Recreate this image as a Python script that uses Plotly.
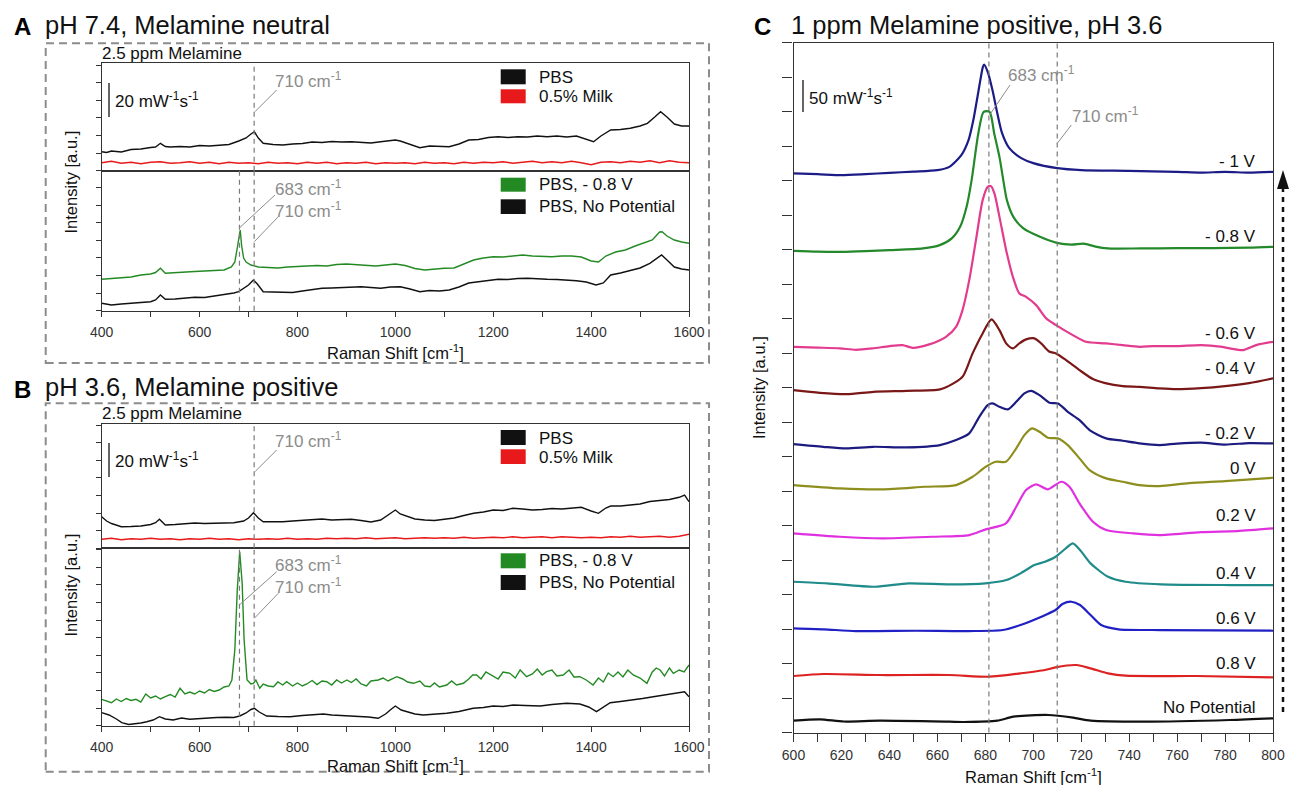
import plotly.graph_objects as go

FONT = "Liberation Sans, Arial, Helvetica, sans-serif"
W, H = 1290, 785

# ---------------- DATA (intensity in a.u., x in cm^-1) ----------------
# Panel A (pH 7.4) upper: PBS / 0.5% milk
a_top_pbs_x = [400,410,420,440,460,480,500,510,520,530,540,560,580,600,620,640,660,680,695,705,
               712,720,730,750,770,790,810,830,850,870,890,910,930,950,970,990,1000,1010,1030,1050,
               1070,1090,1110,1130,1150,1170,1190,1210,1230,1250,1270,1290,1310,1330,1350,1370,1390,1405,1420,1440,
               1460,1480,1500,1515,1530,1542,1555,1570,1585,1600]
a_top_pbs_y = [19,18.2,19.7,18.7,21.2,21.7,23.2,23.7,27.4,24.2,23.7,24.2,23.7,25.2,24.7,25.7,26.2,29.7,32.7,36.7,
               39,32.7,27.4,26.2,25.7,26.7,27.2,28.7,28.2,29.2,28.7,29,28.2,27.7,29,30.2,30.7,29.7,26.7,23,
               24.7,24.2,24,26.7,30.7,31.2,33.2,34,33.2,34,33.7,34.7,34,34.7,33.7,34.7,31.7,29,34.7,40.7,
               41.2,42.4,44.7,47.4,53.7,59,53.7,46.7,44.7,44.7]
milk_x = list(range(400, 1601, 20))
a_top_milk_y = [8,9.5,7.5,8.5,7,8.5,9,7.5,8,9,
                7.5,8.5,7,8.5,7.5,8,7,8.5,7.5,8,
                7,8.5,7.5,8.5,7,8,7.5,8.5,7,8,
                7.5,8,7,8.5,7.5,8,7,8.5,7.5,8.5,
                8,9,7.5,8.5,9.5,8,9,8,9.5,8,
                6,8.5,9,8,9.5,8.5,10,8,10,8.5,
                8]

# Panel A lower: PBS -0.8 V / PBS no potential
a_bot_neg_x = [400,420,440,460,480,500,510,520,530,550,570,590,610,630,650,665,672,677,681,
               683,686,690,695,705,720,740,760,780,800,820,840,860,880,900,920,940,960,980,1000,
               1020,1040,1060,1080,1100,1120,1140,1160,1180,1200,1220,1240,1260,1280,1300,1320,1340,1360,1380,1400,
               1415,1430,1450,1470,1490,1510,1525,1540,1545,1555,1570,1585,1600]
a_bot_neg_y = [31.4,32.2,33.4,33.7,35.7,36.7,38.2,42.4,37.4,38.2,38.7,39.2,39.7,40.2,40.7,43.7,48.7,62.7,78.7,
               80.7,64.7,52.7,48.7,45.7,43.7,43.2,42.7,43.7,44.2,44.7,45.2,44.7,46.2,46.7,46.2,45.2,44.7,45.7,46.7,
               45.2,42.2,40.7,41.7,42.4,42.7,46.7,50.7,52.7,54,53.7,54.7,55.7,54.7,54,54,54.7,54.7,53.7,49.7,
               48.7,54.7,58.7,60.7,64.7,67.7,70.7,78.7,79,74.7,70.7,68.7,67.4]
a_bot_nop_x = [400,420,440,460,480,500,510,520,530,550,570,590,610,630,650,670,680,690,700,
               710,718,730,750,770,790,810,830,850,870,890,910,930,950,970,990,1010,1030,1050,1070,
               1090,1110,1130,1150,1170,1190,1210,1230,1250,1270,1290,1310,1330,1350,1370,1390,1410,1425,1440,1460,
               1480,1500,1520,1535,1544,1555,1570,1585,1600]
a_bot_nop_y = [7.4,5.7,6.7,7.2,8.2,9,10.7,15.7,11.4,11.7,12.7,13.4,13.2,14.7,15.7,17.7,19,22.4,25.7,
               30.7,26.7,19,18.7,18,18.2,19.7,21.2,22.4,22.7,23.2,23.7,24,23.2,22.4,23.7,24,21.7,19,20.2,
               19.7,20.7,23.7,27.7,29,30.7,31.4,31.2,32.2,32.4,31.7,31.4,31.2,30.7,30,28.7,25.7,27.7,35.7,37.7,
               40.2,42.7,47.4,52.7,55.7,50.7,43.7,41.7,40.7]

# Panel B (pH 3.6) upper: PBS / 0.5% milk
b_top_pbs_x = [400,410,420,440,460,480,500,510,518,530,550,570,590,610,630,650,670,690,700,710,
               720,730,750,770,790,810,830,850,870,890,910,930,950,970,990,1000,1010,1025,1040,1060,
               1080,1100,1120,1140,1160,1180,1200,1220,1240,1260,1280,1300,1320,1340,1360,1380,1400,1415,1430,1440,
               1460,1480,1500,1520,1540,1560,1580,1591,1600]
b_top_pbs_y = [31.6,27.3,24.8,21.6,21.8,22.3,23.8,25.6,29,23.3,23.8,24.3,25.3,24.8,25.3,25.8,25.6,27.3,30.3,35.6,
               30.3,26.6,26.3,26.6,27.3,27.8,28.8,29.3,28.3,29,29,27.8,26.3,28.3,35,38.3,34.3,31.6,29.3,28.3,
               27.8,29,30.3,32.8,35,36.3,38.3,37.8,40,39.3,38.3,38.8,39.8,39.3,40.3,41,37.3,35,40.3,42.3,
               42.3,43.3,44.3,46.8,47.8,48.8,51,53.3,46.6]
b_top_milk_y = [9,10,8.5,9.5,9,10,9,9.5,8.5,9.5,
                9,10,9,9.5,8.5,9.5,9,9.5,9,10,
                9,9.5,9,10,9.5,10,9.5,10.5,9.5,10,
                10.5,9.5,10,10.5,10,10.5,10,11,10,10.5,
                11,10.5,11.5,10.5,11,11.5,10.5,11.5,11,10.5,
                11,10.5,11.5,11,12,11,11.5,12,11,12,
                14]

# Panel B lower: PBS -0.8 V / PBS no potential
b_bot_neg_x = [400,410,420,430,440,450,460,470,480,490,500,510,520,530,540,550,560,570,580,590,
               600,610,620,630,640,650,660,666,672,677,682,687,691,697,705,710,715,723,730,740,
               751,760,770,778,790,800,810,819,830,840,850,860,870,880,890,901,910,920,930,941,
               950,965,975,985,1003,1015,1025,1037,1050,1060,1071,1080,1090,1105,1115,1125,1139,1150,1158,1166,
               1175,1185,1200,1210,1220,1234,1245,1255,1268,1280,1290,1300,1309,1320,1330,1343,1355,1365,1377,1390,
               1404,1415,1425,1435,1445,1455,1465,1475,1486,1500,1514,1525,1533,1541,1550,1560,1568,1580,1590,1600]
b_bot_neg_y = [26.4,24.7,23,26.7,24.2,27.2,25.2,26.4,23.7,31.7,27.7,29.7,26.7,29,31.2,28.7,37.4,31.7,33.7,31.7,
               34.7,32.7,36.2,34.2,35.7,38.7,39.7,45.7,75.7,135.7,174,142.4,85.7,45.7,41.7,42.4,45.7,37.4,41.7,39.7,
               39,43.7,40.7,44,39.7,42.7,39.7,41.7,45.2,41.2,44.7,44,40.7,45.7,42.7,45.7,43.2,46.7,41.7,39.7,
               44.7,45.7,47.7,44.7,49,46.7,43.7,42.4,44.7,39.7,39,42.7,38.7,40.7,44.7,40.7,42.4,46.7,50.7,50.7,
               46.7,53.7,49.7,46.7,53.7,52.4,47.7,55.7,49,51.7,56.7,50.7,54,55.7,49.7,50.7,55.7,48.7,49,45.7,
               40.7,47.7,43.7,52.7,49,53.7,48.7,55.7,50.7,47.7,42.4,53.7,57.7,55.7,49.7,57.7,52.4,55.7,53.7,60.7]
b_bot_nop_x = [400,415,430,441,455,465,480,492,505,518,530,546,563,580,600,614,635,655,670,682,
               695,705,712,722,737,760,785,810,830,853,870,890,921,945,965,980,992,1000,1012,1023,
               1040,1057,1080,1105,1130,1159,1180,1200,1220,1241,1265,1296,1320,1350,1377,1395,1411,1425,1439,1460,
               1486,1505,1527,1550,1570,1591,1600]
b_bot_nop_y = [13,10.7,6.7,3,1.2,1.7,2.7,4,5.7,9,6.7,5.7,7.7,6.4,7.2,7.4,8.2,8.4,8.2,9.7,
               12.7,16.2,17.4,13.7,9.7,9.2,9,10.2,11.2,11.7,10.7,10.2,9.7,8.7,7.4,11.7,16.7,19.7,15.7,14,
               11.7,10.7,11.2,12.4,14.2,17.4,18.2,19.7,19.2,20.7,20.2,19.7,21.2,22.4,21.7,18.7,14,18.7,23,24.2,
               25.7,27.2,29,30.7,31.7,34,29]

# Panel C: potential series (offset stacked spectra)
c_m10_x = [600,610,620,630,640,650,660,665,670,673,675,677,679,679.5,681,683,685,687,690,695,700,710,720,740,760,770,780,790,800]
c_m10_y = [559.2,558.5,557.5,558.5,559.8,561,562.5,565.8,577.5,592.5,612.5,639.5,665.8,668.2,660.8,642.5,619.5,599.5,584.5,574.5,569.5,564.5,562.5,561.8,560.8,560,560.8,560,560.8]
c_m08_x = [600,610,620,630,640,654,661,666,669.5,672.2,674.3,677.1,679.3,681.8,683.7,685.9,687.5,689,691.7,695.9,702.8,709.8,716,721,726,731,745,760,775,790,800]
c_m08_y = [481.8,481,480.8,481.5,482.5,484.2,487.5,494.2,505.8,525.8,552.5,599.5,620.8,620.8,599.5,575.8,552.5,532.5,515.8,504.2,495.8,489.8,488,489,486,484.2,484.2,484.5,484.5,485,485.8]
c_m06_x = [600,610,619.4,626,633,640,645.5,649.7,656.6,663.6,667.8,670.5,673.3,676.1,678.9,681,682.4,683.8,685.9,688.7,691.5,694.2,697,701.2,705.4,709.5,716.5,722,730.4,737.3,744.3,750,760,770,778,782,787.5,793,800]
c_m06_y = [385.8,385,384.2,382.8,384.2,386.5,387.5,384.8,388.2,395.8,405.8,422.5,452.5,492.5,532.5,545.8,546.5,539.2,515.8,482.5,455.8,439.2,435.8,427.5,414.2,407.5,397.5,390.8,389.2,387.5,385.8,386.5,386.5,387.5,386,384.2,382.5,387.5,390.8]
c_m04_x = [600,611,622.2,633.3,647.2,661.1,666.7,670.7,674.7,678.9,682.6,685.9,688.7,691.5,694.2,697,700.5,703.3,706.8,709.5,713.7,719.3,724.9,730,737.3,744.3,752.6,760,770,780,790,800]
c_m04_y = [342.5,339.8,338.5,340.8,341.8,343.2,349.2,356.5,379.2,399.2,413.2,402.5,389.2,384.2,389.2,393.2,394.2,389.2,380.8,379.2,372.5,362.5,353.5,349.5,346.5,345.8,344.2,343.5,344.5,346.5,349.5,354.2]
c_m02_x = [600,612.4,622,633.3,647.2,661.1,667.8,673.3,677.5,681,683,685.9,689.4,692.9,696.3,699.1,702.6,706.8,710.3,714.4,719.3,723.5,730.4,737.3,744.3,752.6,760,770,780,790,800]
c_m02_y = [288.5,285.8,284.2,285.8,285.2,287.5,292.5,299.2,315.8,327.5,329.2,325.8,323.2,330.8,339.2,341.8,337.5,329.8,329.2,320.8,312.5,302.5,294.2,291.8,289.2,287.5,289,290,288,289.5,289.2]
c_p00_x = [600,619.4,637,654.8,667.8,674.7,680.2,684.4,688.6,692.9,696.3,699.5,702.6,706.1,710.3,714.4,719.3,723.5,730.4,737.3,744.3,752.6,765,780,800]
c_p00_y = [247.5,244.2,243.2,245.8,247.5,255.8,265.8,270.8,270.8,284.2,297.5,304.2,300.8,294.8,294.2,287.5,274.2,262.5,254.2,250.8,247.5,246.5,249.5,251.5,254.8]
c_p02_x = [600,619.4,637,657.9,673.3,680.2,688.6,692.9,697,701.2,706.1,711.7,715.1,719.3,724.9,730.4,741.6,752.6,770,785,800]
c_p02_y = [199.2,195.8,194.2,195.8,197.5,203.2,209.2,225.8,242.5,248.2,243.2,250.8,245.8,229.2,210.8,202.5,199.2,197.5,200.5,201.5,204.2]
c_p04_x = [600,614,634,648,665.4,680,688.8,694.7,700.5,704.9,709.3,713.7,716.5,719.5,723.9,731.2,738.5,753.2,782.4,800]
c_p04_y = [150.8,149.2,145.8,149.2,148.2,149.2,152.5,159.2,167.5,170.8,175.8,184.5,189.2,182.5,169.2,155.8,150.8,148.2,147.5,147.5]
c_p06_x = [600,612.7,626,651,673,687.3,694.7,703.4,709.3,712.2,715.9,719.5,723.9,728.3,735.6,753,800]
c_p06_y = [104.2,103.2,101.5,101.8,101.5,102.5,107.5,115.8,122.5,128.5,130.8,127.5,117.5,107.5,103.2,102.5,101.8]
c_p08_x = [600,612.7,636,665,681.5,694.7,704.9,709.3,718,723.9,731.2,738.5,768,800]
c_p08_y = [56.5,58.5,57.5,57.5,55.8,59.2,62.5,65.2,67.5,64.2,59.2,56.8,56.5,55.2]
c_nop_x = [600,611,621,636,665,671,685,691.7,706.4,716.6,724,746,782,800]
c_nop_y = [11.8,13.2,11,11.8,10.8,10.5,11.8,15.8,17.5,14.8,11.8,10.8,12.5,14.2]

c_labels = ["- 1 V", "- 0.8 V", "- 0.6 V", "- 0.4 V", "- 0.2 V", "0 V", "0.2 V", "0.4 V", "0.6 V", "0.8 V", "No Potential"]
c_colors = ["#1c1c86", "#23892a", "#e33b8e", "#7a1818", "#1c1c80", "#8e8e1e", "#e030e0", "#1f8b8b", "#2020c4", "#dd2222", "#111111"]
c_series = [(c_m10_x, c_m10_y), (c_m08_x, c_m08_y), (c_m06_x, c_m06_y), (c_m04_x, c_m04_y), (c_m02_x, c_m02_y),
            (c_p00_x, c_p00_y), (c_p02_x, c_p02_y), (c_p04_x, c_p04_y), (c_p06_x, c_p06_y), (c_p08_x, c_p08_y), (c_nop_x, c_nop_y)]

legend_top = ["PBS", "0.5% Milk"]
legend_bot = ["PBS, - 0.8 V", "PBS, No Potential"]
peak_lines_ab = [681.5, 711.5]
peak_lines_c = [681.5, 710]

BLACK = "#111111"
RED = "#e8191a"
GREEN = "#238a23"
GRAY = "#8c8c8c"
AXC = "#333333"

# ---------------- helpers ----------------
def px(x):
    return x / W

def py(y):
    return 1 - y / H

def ax(**kw):
    d = dict(showline=True, linecolor=AXC, linewidth=1.3, mirror=True, showgrid=False, zeroline=False,
             ticks="outside", tickcolor=AXC, tickwidth=1.2,
             tickfont=dict(size=14, color="#333", family=FONT))
    d.update(kw)
    return d

def txt(x, y, s, size=17, color="#111", xanchor="left", yanchor="middle", **kw):
    return dict(x=px(x), y=py(y), xref="paper", yref="paper", text=s, showarrow=False,
                font=dict(size=size, color=color, family=FONT), xanchor=xanchor, yanchor=yanchor, **kw)

def pline(x0, y0, x1, y1, color=GRAY, width=1, dash=None):
    ln = dict(color=color, width=width)
    if dash:
        ln["dash"] = dash
    return dict(type="line", xref="paper", yref="paper", x0=px(x0), y0=py(y0), x1=px(x1), y1=py(y1), line=ln)

def prect(x0, y0, x1, y1, fill):
    return dict(type="rect", xref="paper", yref="paper", x0=px(x0), y0=py(y0), x1=px(x1), y1=py(y1),
                fillcolor=fill, line=dict(width=0))

fig = go.Figure()

def add(x, y, color, xa, ya, width=1.4, shape="linear"):
    fig.add_trace(go.Scatter(x=x, y=y, mode="lines", line=dict(color=color, width=width, shape=shape, smoothing=0.7),
                             xaxis=xa, yaxis=ya, showlegend=False, hoverinfo="skip"))

add(a_top_pbs_x, a_top_pbs_y, BLACK, "x", "y")
add(milk_x, a_top_milk_y, RED, "x", "y")
add(a_bot_nop_x, a_bot_nop_y, BLACK, "x2", "y2")
add(a_bot_neg_x, a_bot_neg_y, GREEN, "x2", "y2")
add(b_top_pbs_x, b_top_pbs_y, BLACK, "x3", "y3")
add(milk_x, b_top_milk_y, RED, "x3", "y3")
add(b_bot_nop_x, b_bot_nop_y, BLACK, "x4", "y4")
add(b_bot_neg_x, b_bot_neg_y, GREEN, "x4", "y4")
for (sx, sy), col in zip(c_series, c_colors):
    add(sx, sy, col, "x5", "y5", width=2.2, shape="spline")

XD = [px(101.7), px(689)]
xa_common = dict(range=[400, 1600])
layout = dict(
    width=W, height=H, autosize=False, margin=dict(l=0, r=0, t=0, b=0, pad=0, autoexpand=False),
    paper_bgcolor="white", plot_bgcolor="rgba(0,0,0,0)",
    showlegend=False, font=dict(family=FONT, color="#222"),
    xaxis=ax(domain=XD, anchor="y", ticks="", showticklabels=False, **xa_common),
    yaxis=ax(domain=[py(170.7), py(63)], range=[0, 107.7], anchor="x", dtick=17.6, tick0=0, ticklen=5, showticklabels=False),
    xaxis2=ax(domain=XD, anchor="y2", dtick=200, tick0=400, ticklen=5, ticklabelstandoff=3,
              minor=dict(dtick=100, ticks="outside", ticklen=5, tickcolor=AXC), **xa_common),
    yaxis2=ax(domain=[py(310.7), py(170.7)], range=[0, 140], anchor="x2", dtick=17.6, tick0=0, ticklen=5, showticklabels=False),
    xaxis3=ax(domain=XD, anchor="y3", ticks="", showticklabels=False, **xa_common),
    yaxis3=ax(domain=[py(548.3), py(424)], range=[0, 124.3], anchor="x3", dtick=17.6, tick0=0, ticklen=5, showticklabels=False),
    xaxis4=ax(domain=XD, anchor="y4", dtick=200, tick0=400, ticklen=5, ticklabelstandoff=3,
              minor=dict(dtick=100, ticks="outside", ticklen=5, tickcolor=AXC), **xa_common),
    yaxis4=ax(domain=[py(725.7), py(548.3)], range=[0, 177.4], anchor="x4", dtick=17.6, tick0=0, ticklen=5, showticklabels=False),
    xaxis5=ax(domain=[px(793.5), px(1273)], range=[600, 800], anchor="y5", dtick=20, tick0=600, ticklen=8, ticklabelstandoff=2,
              minor=dict(dtick=10, ticks="outside", ticklen=8, tickcolor=AXC)),
    yaxis5=ax(domain=[py(732.5), py(42.7)], range=[0, 690], anchor="x5", dtick=34.5, tick0=0, ticklen=10, showticklabels=False),
)
fig.update_layout(**layout)

shapes = []
# dashed panel boxes
shapes.append(dict(type="rect", xref="paper", yref="paper", x0=px(45.7), x1=px(709), y0=py(363), y1=py(43.3),
                   line=dict(color=GRAY, width=2, dash="8px,5px")))
shapes.append(dict(type="rect", xref="paper", yref="paper", x0=px(45.7), x1=px(709), y0=py(771.7), y1=py(403.3),
                   line=dict(color=GRAY, width=2, dash="8px,5px")))
# peak position lines
def vdash(xv, xa, ya):
    return dict(type="line", xref=xa, yref=ya + " domain", x0=xv, x1=xv, y0=0, y1=1,
                line=dict(color="#7a7a7a", width=1.2, dash="5px,4px"))
shapes.append(vdash(peak_lines_ab[1], "x", "y"))
shapes.append(vdash(peak_lines_ab[0], "x2", "y2"))
shapes.append(vdash(peak_lines_ab[1], "x2", "y2"))
shapes.append(vdash(peak_lines_ab[1], "x3", "y3"))
shapes.append(vdash(peak_lines_ab[0], "x4", "y4"))
shapes.append(vdash(peak_lines_ab[1], "x4", "y4"))
shapes.append(vdash(peak_lines_c[0], "x5", "y5"))
shapes.append(vdash(peak_lines_c[1], "x5", "y5"))
# leader lines
shapes += [pline(255, 111.7, 276.7, 90),
           pline(239, 228.3, 275, 195), pline(254.3, 241.7, 278.3, 216.7),
           pline(255, 471.7, 276.7, 450),
           pline(239.3, 605, 276.7, 571.7), pline(254.3, 618.3, 278.3, 593.3),
           pline(989.6, 115, 1010, 85), pline(1057.3, 143.3, 1071.3, 125)]
# scale bars
shapes += [pline(109, 83, 109, 117, color=AXC, width=1.5),
           pline(109, 443, 109, 477, color=AXC, width=1.5),
           pline(803, 80, 803, 112, color=AXC, width=1.5)]
# legend swatches
shapes += [prect(500.7, 69.3, 525.7, 84.3, BLACK), prect(500.7, 89.3, 525.7, 103.3, RED),
           prect(500.7, 177.7, 525.7, 191.7, GREEN), prect(500.7, 199.3, 525.7, 214, BLACK),
           prect(500.7, 430, 525.7, 445, BLACK), prect(500.7, 449.3, 525.7, 464, RED),
           prect(500.7, 553.3, 525.7, 568.3, GREEN), prect(500.7, 575, 525.7, 590, BLACK)]
# potential direction arrow
shapes.append(pline(1283, 712, 1283, 186, color="#111", width=2.5, dash="5px,5px"))
shapes.append(dict(type="path", xref="paper", yref="paper",
                   path=f"M {px(1277)},{py(189)} L {px(1283)},{py(170)} L {px(1289)},{py(189)} Z",
                   fillcolor="#111", line=dict(width=0)))

ann = []
ann += [txt(12, 27, "<b>A</b>", size=24, color="#000"),
        txt(43, 25, "pH 7.4, Melamine neutral", size=25.5),
        txt(12, 389, "<b>B</b>", size=24, color="#000"),
        txt(43, 386.7, "pH 3.6, Melamine positive", size=25.5),
        txt(752, 27, "<b>C</b>", size=24, color="#000"),
        txt(789, 25, "1 ppm Melamine positive, pH 3.6", size=25.5)]
ann += [txt(100, 53.3, "2.5 ppm Melamine"), txt(100, 413.3, "2.5 ppm Melamine")]
ann += [txt(113, 100, "20 mW<sup>-1</sup>s<sup>-1</sup>"), txt(113, 460, "20 mW<sup>-1</sup>s<sup>-1</sup>"),
        txt(807, 96.7, "50 mW<sup>-1</sup>s<sup>-1</sup>")]
cm1 = " cm<sup>-1</sup>"
ann += [txt(273, 80, "710" + cm1, color=GRAY),
        txt(273, 188.3, "683" + cm1, color=GRAY), txt(273, 210, "710" + cm1, color=GRAY),
        txt(273, 440, "710" + cm1, color=GRAY),
        txt(273, 564, "683" + cm1, color=GRAY), txt(273, 585.7, "710" + cm1, color=GRAY),
        txt(1006, 74, "683" + cm1, color=GRAY), txt(1069.6, 115, "710" + cm1, color=GRAY)]
ann += [txt(537.3, 77.3, legend_top[0]), txt(537.3, 96.7, legend_top[1]),
        txt(537.3, 185, legend_bot[0]), txt(537.3, 206.7, legend_bot[1]),
        txt(537.3, 438.3, legend_top[0]), txt(537.3, 457.3, legend_top[1]),
        txt(537.3, 560.7, legend_bot[0]), txt(537.3, 582.7, legend_bot[1])]
xt = "Raman Shift [cm<sup>-1</sup>]"
ann += [txt(395.4, 352, xt, size=16.5, xanchor="center"),
        txt(395.4, 765, xt, size=16.5, xanchor="center"),
        txt(1033, 776, xt, size=16.5, xanchor="center")]
ann += [txt(70.5, 182, "Intensity [a.u.]", size=16.5, xanchor="center", textangle=-90),
        txt(70.5, 585, "Intensity [a.u.]", size=16.5, xanchor="center", textangle=-90),
        txt(759, 388, "Intensity [a.u.]", size=16.5, xanchor="center", textangle=-90)]
c_label_y = [161.7, 236.7, 333, 368, 433, 468, 515, 573.3, 618.3, 663.3, 707.3]
for lab, yy in zip(c_labels, c_label_y):
    ann.append(txt(1258, yy, lab, xanchor="right"))

fig.update_layout(shapes=shapes, annotations=ann)
fig.write_html("out.html", config={"displayModeBar": False, "responsive": False},
               post_script="document.body.style.margin='0px';document.body.style.overflow='hidden';"
                           "document.documentElement.style.overflow='hidden';")
